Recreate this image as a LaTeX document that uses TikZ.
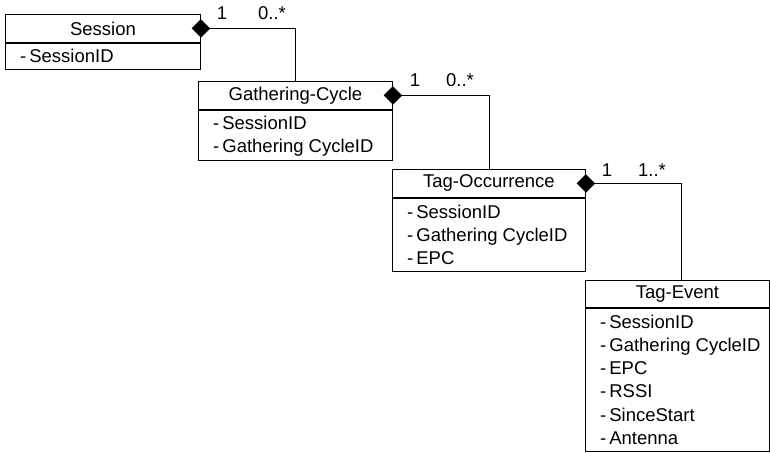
\documentclass[tikz,border=0pt]{standalone}
\usepackage{fontspec}
\setmainfont{Liberation Sans}
\usetikzlibrary{shapes.geometric}
\begin{document}
\begin{tikzpicture}[x=1pt,y=-1pt,
  txt/.style={font=\fontsize{18.5}{23.3}\selectfont},
  head/.style={draw, line width=0.9pt, anchor=north west, minimum height=28pt, inner sep=0pt, txt},
  body/.style={draw, line width=0.9pt, anchor=north west, inner sep=0pt},
  attrs/.style={anchor=north west, inner sep=0pt, align=left, txt},
  comp/.style={diamond, fill=black, draw=black, inner sep=0pt, minimum width=18pt, minimum height=18pt},
  link/.style={line width=0.9pt},
  mult/.style={txt, inner sep=0pt, anchor=base}
]
\useasboundingbox (0,0) rectangle (770,452);

% Session
\node[head, minimum width=195pt] (sH) at (5,14) {Session};
\node[body, minimum width=195pt, minimum height=26pt] (sB) at (sH.south west) {};
\node[attrs] (sA) at ([xshift=15pt,yshift=-5.5pt]sB.north west) {-\kern3pt SessionID};

% Gathering-Cycle
\node[head, minimum width=194pt] (gH) at (198,81) {Gathering-Cycle};
\node[body, minimum width=194pt, minimum height=50pt] (gB) at (gH.south west) {};
\node[attrs] (gA) at ([xshift=15pt,yshift=-6pt]gB.north west) {-\kern3pt SessionID\\-\kern3pt Gathering CycleID};

% Tag-Occurrence
\node[head, minimum width=193pt] (oH) at (392,169) {Tag-Occurrence};
\node[body, minimum width=193pt, minimum height=73pt] (oB) at (oH.south west) {};
\node[attrs] (oA) at ([xshift=15pt,yshift=-6.5pt]oB.north west) {-\kern3pt SessionID\\-\kern3pt Gathering CycleID\\-\kern3pt EPC};

% Tag-Event
\node[head, minimum width=184pt, minimum height=27pt] (eH) at (585,280) {Tag-Event};
\node[body, minimum width=184pt, minimum height=143pt] (eB) at (eH.south west) {};
\node[attrs] (eA) at ([xshift=15pt,yshift=-6.5pt]eB.north west) {-\kern3pt SessionID\\-\kern3pt Gathering CycleID\\-\kern3pt EPC\\-\kern3pt RSSI\\-\kern3pt SinceStart\\-\kern3pt Antenna};

% composition diamonds
\node[comp] (d1) at (sH.east) {};
\node[comp] (d2) at (gH.east) {};
\node[comp] (d3) at (oH.east) {};

% connectors
\draw[link] (d1.east) -| (gH.north);
\draw[link] (d2.east) -| (oH.north);
\draw[link] (d3.east) -| ([xshift=4pt]eH.north);

% multiplicities
\node[mult] (m1a) at (222,20) {1};
\node[mult] (m1b) at (272,20) {0..*};
\node[mult] (m2a) at (415,86) {1};
\node[mult] (m2b) at (460,86) {0..*};
\node[mult] (m3a) at (607,176) {1};
\node[mult] (m3b) at (652,176) {1..*};
\end{tikzpicture}
\end{document}
